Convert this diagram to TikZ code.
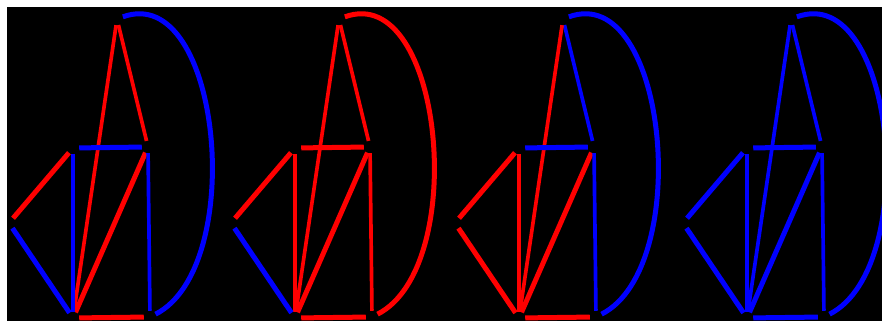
\documentclass[tikz,border=0pt]{standalone}
\usepackage{tikz}

\begin{document}
\begin{tikzpicture}[
  x=0.3mm, y=0.3mm,
  vertex/.style={circle, fill=black, inner sep=0pt, minimum size=3.6mm},
  heavy/.style={line width=1.5mm},
  light/.style={line width=1.1mm},
  hot/.style={draw=red},
  cold/.style={draw=blue}
]
\useasboundingbox (0,0) rectangle (882,321);
\fill[white] (0,0) rectangle (882,321);
\fill[black] (7,0) rectangle (882,314);
\clip (7,0) rectangle (882,314);

% first colouring
\begin{scope}
\node[vertex] (top1) at (117,302) {};
\node[vertex] (hub1) at (148,174) {};
\node[vertex] (corner1) at (73,173) {};
\node[vertex] (tip1) at (9,98) {};
\node[vertex] (base1) at (73,3) {};
\node[vertex] (foot1) at (150,4) {};
\draw[heavy, cold] (top1) .. controls +(104,38) and +(98,50) .. (foot1);
\draw[light, hot] (top1) -- (hub1);
\draw[light, hot] (top1) -- (base1);
\draw[heavy, cold] (corner1) -- (hub1);
\draw[heavy, hot] (hub1) -- (base1);
\draw[light, cold] (hub1) -- (foot1);
\draw[heavy, hot] (corner1) -- (tip1);
\draw[light, cold] (corner1) -- (base1);
\draw[heavy, cold] (tip1) -- (base1);
\draw[heavy, hot] (base1) -- (foot1);
\end{scope}

% second colouring
\begin{scope}[shift={(222,0)}]
\node[vertex] (top2) at (117,302) {};
\node[vertex] (hub2) at (148,174) {};
\node[vertex] (corner2) at (73,173) {};
\node[vertex] (tip2) at (9,98) {};
\node[vertex] (base2) at (73,3) {};
\node[vertex] (foot2) at (150,4) {};
\draw[heavy, hot] (top2) .. controls +(104,38) and +(98,50) .. (foot2);
\draw[light, hot] (top2) -- (hub2);
\draw[light, hot] (top2) -- (base2);
\draw[heavy, hot] (corner2) -- (hub2);
\draw[heavy, hot] (hub2) -- (base2);
\draw[light, hot] (hub2) -- (foot2);
\draw[heavy, hot] (corner2) -- (tip2);
\draw[light, hot] (corner2) -- (base2);
\draw[heavy, cold] (tip2) -- (base2);
\draw[heavy, hot] (base2) -- (foot2);
\end{scope}

% third colouring
\begin{scope}[shift={(446,0)}]
\node[vertex] (top3) at (117,302) {};
\node[vertex] (hub3) at (148,174) {};
\node[vertex] (corner3) at (73,173) {};
\node[vertex] (tip3) at (9,98) {};
\node[vertex] (base3) at (73,3) {};
\node[vertex] (foot3) at (150,4) {};
\draw[heavy, cold] (top3) .. controls +(104,38) and +(98,50) .. (foot3);
\draw[light, cold] (top3) -- (hub3);
\draw[light, hot] (top3) -- (base3);
\draw[heavy, cold] (corner3) -- (hub3);
\draw[heavy, hot] (hub3) -- (base3);
\draw[light, cold] (hub3) -- (foot3);
\draw[heavy, hot] (corner3) -- (tip3);
\draw[light, hot] (corner3) -- (base3);
\draw[heavy, hot] (tip3) -- (base3);
\draw[heavy, hot] (base3) -- (foot3);
\end{scope}

% fourth colouring
\begin{scope}[shift={(674,0)}]
\node[vertex] (top4) at (117,302) {};
\node[vertex] (hub4) at (148,174) {};
\node[vertex] (corner4) at (73,173) {};
\node[vertex] (tip4) at (9,98) {};
\node[vertex] (base4) at (73,3) {};
\node[vertex] (foot4) at (150,4) {};
\draw[heavy, cold] (top4) .. controls +(104,38) and +(98,50) .. (foot4);
\draw[light, cold] (top4) -- (hub4);
\draw[light, cold] (top4) -- (base4);
\draw[heavy, cold] (corner4) -- (hub4);
\draw[heavy, cold] (hub4) -- (base4);
\draw[light, cold] (hub4) -- (foot4);
\draw[heavy, cold] (corner4) -- (tip4);
\draw[light, cold] (corner4) -- (base4);
\draw[heavy, cold] (tip4) -- (base4);
\draw[heavy, cold] (base4) -- (foot4);
\end{scope}
\end{tikzpicture}
\end{document}
